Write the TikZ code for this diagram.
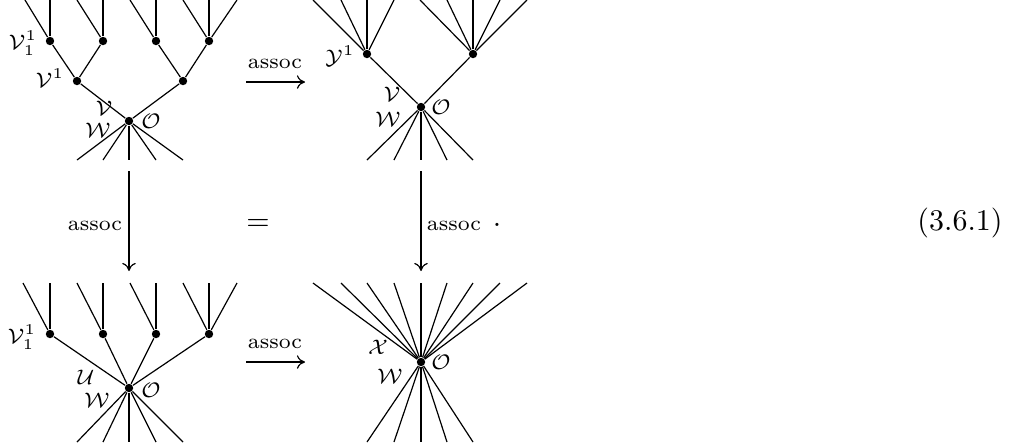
\documentclass[tikz,border=0pt]{standalone}
\usepackage{amsmath, amssymb}
\usepackage{tikz}
\usetikzlibrary{arrows.meta}

\begin{document}
\begin{tikzpicture}[x=0.3333pt,y=-0.3333pt,
	dot/.style={circle,fill,inner sep=0pt,minimum size=2.8pt},
	leg/.style={line width=0.4pt},
	trunk/.style={line width=0.95pt},
	lab/.style={font=\scriptsize,inner sep=0pt},
	arr/.style={line width=0.4pt,-{Computer Modern Rightarrow[length=2.7pt,width=4.5pt]}},
	]
	\useasboundingbox (0,0) rectangle (1022,446);
	
	% top left
	\node[dot] (a1) at (50,41) {};
	\node[dot] (a2) at (103,41) {};
	\node[dot] (a3) at (156,41) {};
	\node[dot] (a4) at (209,41) {};
	\node[dot] (b1) at (77,81) {};
	\node[dot] (b2) at (183,81) {};
	\node[dot] (r1) at (129,121) {};
	\foreach \n/\x in {a1/50,a2/103,a3/156,a4/209} {
		\coordinate (\n t) at (\x,0);
		\draw[trunk] (\n) -- (\n t);
	}
	\foreach \n/\x [count=\i] in {a1/25,a2/77,a3/130,a4/183,a4/237} {
		\coordinate (tl\i) at (\x,0);
		\draw[leg] (\n) -- (tl\i);
	}
	\draw[leg] (a1) -- (b1) -- (r1) -- (b2) -- (a4);
	\draw[leg] (a2) -- (b1);
	\draw[leg] (a3) -- (b2);
	\foreach \x [count=\i] in {77,103,156,183} {
		\coordinate (tlb\i) at (\x,160);
		\draw[leg] (r1) -- (tlb\i);
	}
	\coordinate (tlbm) at (129,160);
	\draw[trunk] (r1) -- (tlbm);
	\node[lab] (lv11) at (23,43) {$\mathcal{V}_1^1$};
	\node[lab] (lv1) at (50,78) {$\mathcal{V}^1$};
	\node[lab] (lv) at (104,108) {$\mathcal{V}$};
	\node[lab] (lw) at (98,130) {$\mathcal{W}$};
	\node[lab] (lo) at (151,121) {$\mathcal{O}$};
	
	% top right
	\node[dot] (c1) at (367,54) {};
	\node[dot] (c2) at (473,54) {};
	\node[dot] (r2) at (421,107) {};
	\foreach \x [count=\i] in {313,341,394} {
		\coordinate (trl\i) at (\x,0);
		\draw[leg] (c1) -- (trl\i);
	}
	\foreach \x [count=\i] in {420,447,500,527} {
		\coordinate (trr\i) at (\x,0);
		\draw[leg] (c2) -- (trr\i);
	}
	\coordinate (c1t) at (367,0);
	\coordinate (c2t) at (473,0);
	\draw[trunk] (c1) -- (c1t);
	\draw[trunk] (c2) -- (c2t);
	\draw[leg] (c1) -- (r2) -- (c2);
	\foreach \x [count=\i] in {367,394,447,473} {
		\coordinate (trb\i) at (\x,160);
		\draw[leg] (r2) -- (trb\i);
	}
	\coordinate (trbm) at (421,160);
	\draw[trunk] (r2) -- (trbm);
	\node[lab] (ry1) at (340,56) {$\mathcal{Y}^1$};
	\node[lab] (rv) at (392,94) {$\mathcal{V}$};
	\node[lab] (rw) at (388,119) {$\mathcal{W}$};
	\node[lab] (ro) at (441,107) {$\mathcal{O}$};
	
	% bottom left
	\node[dot] (d1) at (50,334) {};
	\node[dot] (d2) at (103,334) {};
	\node[dot] (d3) at (156,334) {};
	\node[dot] (d4) at (209,334) {};
	\node[dot] (r3) at (129,388) {};
	\foreach \n/\x in {d1/50,d2/103,d3/156,d4/209} {
		\coordinate (\n t) at (\x,283);
		\draw[trunk] (\n) -- (\n t);
	}
	\foreach \n/\x [count=\i] in {d1/23,d2/77,d3/130,d4/183,d4/237} {
		\coordinate (bl\i) at (\x,283);
		\draw[leg] (\n) -- (bl\i);
	}
	\foreach \n in {d1,d2,d3,d4}
		\draw[leg] (\n) -- (r3);
	\foreach \x [count=\i] in {77,103,156,183} {
		\coordinate (blb\i) at (\x,442);
		\draw[leg] (r3) -- (blb\i);
	}
	\coordinate (blbm) at (129,442);
	\draw[trunk] (r3) -- (blbm);
	\node[lab] (bv11) at (22,337) {$\mathcal{V}_1^1$};
	\node[lab] (bu) at (86,377) {$\mathcal{U}$};
	\node[lab] (bw) at (97,400) {$\mathcal{W}$};
	\node[lab] (bo) at (151,390) {$\mathcal{O}$};
	
	% bottom right
	\node[dot] (r4) at (421,362) {};
	\foreach \x [count=\i] in {313,341,367,394,447,473,500,527} {
		\coordinate (brt\i) at (\x,283);
		\draw[leg] (r4) -- (brt\i);
	}
	\foreach \x [count=\i] in {367,394,447,473} {
		\coordinate (brb\i) at (\x,442);
		\draw[leg] (r4) -- (brb\i);
	}
	\coordinate (brtm) at (421,283);
	\coordinate (brbm) at (421,442);
	\draw[trunk] (brtm) -- (r4) -- (brbm);
	\node[lab] (bx) at (378,347) {$\mathcal{X}$};
	\node[lab] (bw2) at (390,376) {$\mathcal{W}$};
	\node[lab] (bo2) at (441,362) {$\mathcal{O}$};
	
	% arrows
	\coordinate (h1s) at (246,82);
	\coordinate (h1m) at (278,82);
	\coordinate (h1e) at (305,82);
	\draw[line width=0.7pt] (h1s) -- (h1m);
	\draw[arr] (h1s) -- (h1e);
	\node[lab] (h1l) at (275,64) {assoc};
	
	\coordinate (h2s) at (246,362);
	\coordinate (h2m) at (278,362);
	\coordinate (h2e) at (305,362);
	\draw[line width=0.7pt] (h2s) -- (h2m);
	\draw[arr] (h2s) -- (h2e);
	\node[lab] (h2l) at (275,344) {assoc};
	
	\coordinate (v1s) at (129,171);
	\coordinate (v1m) at (129,243);
	\coordinate (v1e) at (129,271);
	\draw[trunk] (v1s) -- (v1m);
	\draw[arr] (v1s) -- (v1e);
	\node[lab] (v1l) at (95,226) {assoc};
	
	\coordinate (v2s) at (421,171);
	\coordinate (v2m) at (421,243);
	\coordinate (v2e) at (421,271);
	\draw[trunk] (v2s) -- (v2m);
	\draw[arr] (v2s) -- (v2e);
	\node[lab] (v2l) at (454,226) {assoc};
	
	\node (eq) at (258,225) {$=$};
	\node (pt) at (497,225) {.};
	\node (num) at (960,223) {(3.6.1)};
	
\end{tikzpicture}
\end{document}
